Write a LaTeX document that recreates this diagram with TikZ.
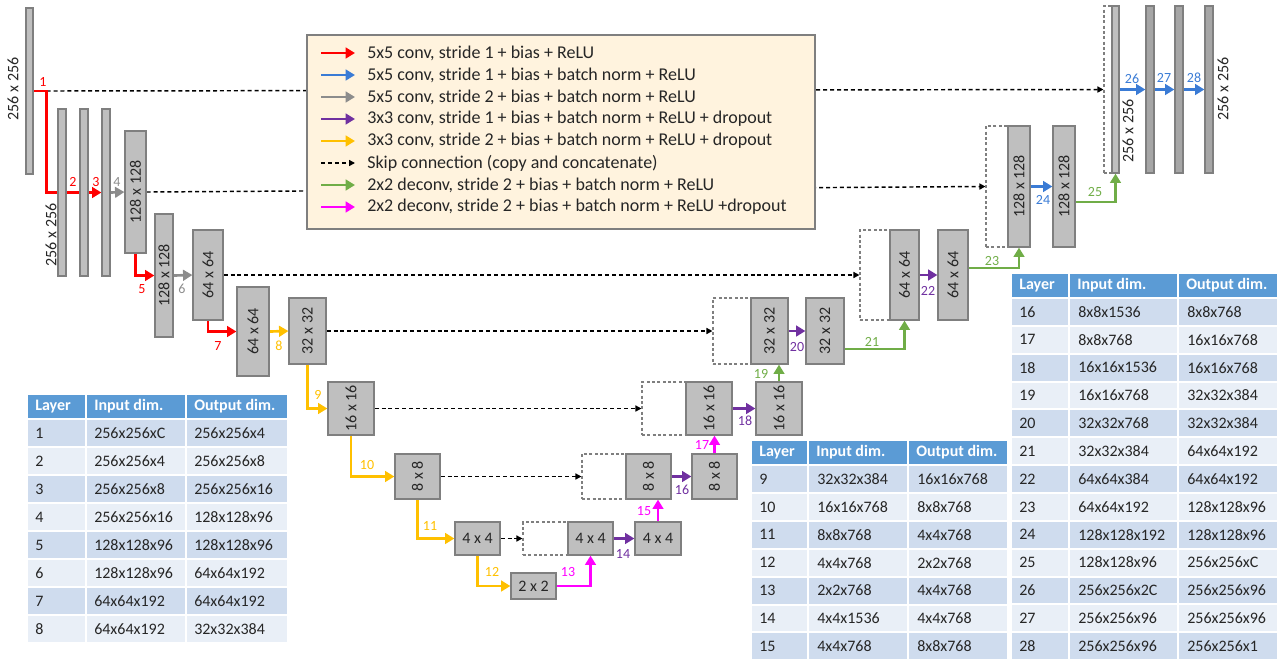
\documentclass[tikz,border=0pt]{standalone}
\usepackage{fontspec}
\setmainfont{Carlito}
\usetikzlibrary{arrows.meta,fit,calc}
\definecolor{cred}{HTML}{FF0000}
\definecolor{cblue}{HTML}{3A7BD5}
\definecolor{cgray}{HTML}{8C8C8C}
\definecolor{cpurple}{HTML}{7030A0}
\definecolor{cyellow}{HTML}{FFC000}
\definecolor{cgreen}{HTML}{70AD47}
\definecolor{cmag}{HTML}{FF00FF}
\definecolor{blkfill}{HTML}{BFBFBF}
\definecolor{blkdark}{HTML}{A6A6A6}
\definecolor{blkline}{HTML}{7F7F7F}
\definecolor{legfill}{HTML}{FFF3DE}
\definecolor{thead}{HTML}{5B9BD5}
\definecolor{trowA}{HTML}{CFDCEE}
\definecolor{trowB}{HTML}{E9EFF7}
\definecolor{txt}{HTML}{262626}
\pgfdeclarelayer{bg}
\pgfsetlayers{bg,main}
\tikzset{
  blk/.style={draw=blkline, fill=blkfill, line width=0.9pt, inner sep=0pt},
  blkd/.style={blk, fill=blkdark},
  dbox/.style={draw=blkline, dash pattern=on 2.2pt off 1.8pt, line width=0.8pt, inner sep=0pt},
  lbl/.style={font=\fontsize{12}{14}\selectfont, text=txt, inner sep=0pt},
  num/.style={font=\fontsize{10.5}{12}\selectfont, inner sep=0pt},
  conn/.style={line width=2pt, -{Triangle[length=7pt,width=8pt]}},
  aRed/.style={conn, draw=cred},
  aBlue/.style={conn, draw=cblue},
  aGray/.style={conn, draw=cgray},
  aPur/.style={conn, draw=cpurple},
  aYel/.style={conn, draw=cyellow},
  aGrn/.style={conn, draw=cgreen},
  aMag/.style={conn, draw=cmag},
  skipc/.style={line width=1.1pt, draw=black, dash pattern=on 3pt off 2.2pt, -{Triangle[length=4.5pt,width=4.5pt]}},
  legtxt/.style={font=\fontsize{13.5}{16}\selectfont, text=txt, anchor=west, inner sep=0pt},
  ttxt/.style={font=\fontsize{12}{14}\selectfont, text=txt, anchor=west, inner sep=0pt},
  thtxt/.style={font=\fontsize{12}{14}\selectfont\bfseries, text=white, anchor=west, inner sep=0pt},
  cell/.style={draw=white, line width=1.5pt}
}
\begin{document}
\begin{tikzpicture}[x=0.75pt,y=-0.75pt]
\useasboundingbox (0,0) rectangle (1284,662);

% ---------- dashed concatenation boxes ----------
\node[dbox, fit={(1104,6)(1112,173)}] (R0) {};
\node[dbox, fit={(986,126)(1008,247)}] (Q0) {};
\node[dbox, fit={(860,230)(890,320)}] (P0) {};
\node[dbox, fit={(713,298)(751,364)}] (N0) {};
\node[dbox, fit={(642,382)(686,435)}] (H0) {};
\node[dbox, fit={(582,454)(626,499)}] (J0) {};
\node[dbox, fit={(523,522)(568,555)}] (L0) {};

% ---------- encoder blocks ----------
\node[blk, fit={(26,8)(33,174)}] (A) {};
\node[blk, fit={(58,109)(66,276)}] (S1) {};
\node[blk, fit={(80,109)(88,276)}] (S2) {};
\node[blk, fit={(102,109)(110,276)}] (S3) {};
\node[blk, fit={(125,131)(146,253)}] (B) {};
\node[blk, fit={(155,214)(173,337)}] (C) {};
\node[blk, fit={(193,230)(223,320)}] (D) {};
\node[blk, fit={(237,287)(269,376)}] (E) {};
\node[blk, fit={(289,298)(326,364)}] (F) {};
\node[blk, fit={(328,382)(374,435)}] (G) {};
\node[blk, fit={(395,454)(440,499)}] (I) {};
\node[blk, fit={(455,522)(500,555)}] (K) {};
\node[blk, fit={(511,573)(556,599)}] (M) {};
% ---------- decoder blocks ----------
\node[blk, fit={(568,522)(613,555)}] (L1) {};
\node[blk, fit={(635,522)(681,555)}] (L2) {};
\node[blk, fit={(626,454)(671,499)}] (J1) {};
\node[blk, fit={(692,454)(737,499)}] (J2) {};
\node[blk, fit={(686,382)(732,435)}] (H1) {};
\node[blk, fit={(756,382)(802,435)}] (H2) {};
\node[blk, fit={(751,298)(788,364)}] (N1) {};
\node[blk, fit={(806,298)(844,364)}] (N2) {};
\node[blk, fit={(890,230)(919,320)}] (P1) {};
\node[blk, fit={(938,230)(968,320)}] (P2) {};
\node[blk, fit={(1008,126)(1030,247)}] (Q1) {};
\node[blk, fit={(1053,126)(1075,247)}] (Q2) {};
\node[blk, fit={(1112,6)(1119,173)}] (R1) {};
\node[blkd, fit={(1146,6)(1154,173)}] (R2) {};
\node[blkd, fit={(1175,6)(1183,173)}] (R3) {};
\node[blkd, fit={(1205,6)(1213,173)}] (R4) {};

% ---------- block labels ----------
\node[lbl, rotate=90] (tA) at (13,89) {256 x 256};
\node[lbl, rotate=90] (tS) at (51,235) {256 x 256};
\node[lbl, rotate=90] (tB) at (B) {128 x 128};
\node[lbl, rotate=90] (tC) at (C) {128 x 128};
\node[lbl, rotate=90] (tD) at (D) {64 x 64};
\node[lbl, rotate=90] (tE) at (E) {64 x 64};
\node[lbl, rotate=90] (tF) at (F) {32 x 32};
\node[lbl, rotate=90] (tG) at (G) {16 x 16};
\node[lbl, rotate=90] (tI) at (I) {8 x 8};
\node[lbl] (tK) at (K) {4 x 4};
\node[lbl] (tM) at (M) {2 x 2};
\node[lbl] (tL1) at (L1) {4 x 4};
\node[lbl] (tL2) at (L2) {4 x 4};
\node[lbl, rotate=90] (tJ1) at (J1) {8 x 8};
\node[lbl, rotate=90] (tJ2) at (J2) {8 x 8};
\node[lbl, rotate=90] (tH1) at (H1) {16 x 16};
\node[lbl, rotate=90] (tH2) at (H2) {16 x 16};
\node[lbl, rotate=90] (tN1) at (N1) {32 x 32};
\node[lbl, rotate=90] (tN2) at (N2) {32 x 32};
\node[lbl, rotate=90] (tP1) at (P1) {64 x 64};
\node[lbl, rotate=90] (tP2) at (P2) {64 x 64};
\node[lbl, rotate=90] (tQ1) at (Q1) {128 x 128};
\node[lbl, rotate=90] (tQ2) at (Q2) {128 x 128};
\node[lbl, rotate=90] (tR1) at (1128,131) {256 x 256};
\node[lbl, rotate=90] (tR4) at (1223,89) {256 x 256};

% ---------- helper coordinates ----------
\coordinate (c1) at ($(A.east)+(13,0)$);
\coordinate (y349) at (0,349);
\coordinate (y268) at (0,268);
\coordinate (y202) at (0,202);

% ---------- connectors (behind blocks) ----------
\begin{pgfonlayer}{bg}
\draw[skipc] (c1) -- (R0.west);
\draw[skipc] (B.east) -- (Q0.west);
\draw[skipc] (D.east) -- (P0.west);
\draw[skipc] (F.east) -- (N0.west);
\draw[skipc] (G.east) -- (H0.west);
\draw[skipc] (I.east) -- (J0.west);
\draw[skipc] (K.east) -- (L0.west);

\draw[aRed] (A.east) -- (c1) |- (S3.west);
\draw[aGray] (S3.east) -- (B.west);
\draw[aRed] (B.south) |- (C.west);
\draw[aGray] (C.east) -- (D.west);
\draw[aRed] (D.south) |- (E.west);
\draw[aYel] (E.east) -- (F.west);
\draw[aYel] (F.south) |- (G.west);
\draw[aYel] (G.south) |- (I.west);
\draw[aYel] (I.south) |- (K.west);
\draw[aYel] (K.south) |- (M.west);
\draw[aMag] (M.east) -| (L1.south);
\draw[aPur] (L1.east) -- (L2.west);
\draw[aMag] (L2.north) -- (L2.north |- J1.south);
\draw[aPur] (J1.east) -- (J2.west);
\draw[aMag] (J2.north) -- (J2.north |- H1.south);
\draw[aPur] (H1.east) -- (H2.west);
\draw[aGrn] (H2.north) -- (H2.north |- N1.south);
\draw[aPur] (N1.east) -- (N2.west);
\draw[aGrn] (N2.east |- y349) -| (P1.south);
\draw[aPur] (P1.east) -- (P2.west);
\draw[aGrn] (P2.east |- y268) -| (Q1.south);
\draw[aBlue] (Q1.east) -- (Q2.west);
\draw[aGrn] (Q2.east |- y202) -| (R1.south);
\draw[aBlue] (R1.east) -- (R2.west);
\draw[aBlue] (R2.east) -- (R3.west);
\draw[aBlue] (R3.east) -- (R4.west);
\end{pgfonlayer}

% ---------- layer numbers ----------
\node[num, text=cred] (n1) at (43,82) {1};
\node[num, text=cred] (n2) at (73,182) {2};
\node[num, text=cred] (n3) at (96,182) {3};
\node[num, text=cgray] (n4) at (117,182) {4};
\node[num, text=cred] (n5) at (142,289) {5};
\node[num, text=cgray] (n6) at (182,289) {6};
\node[num, text=cred] (n7) at (218,346) {7};
\node[num, text=cyellow] (n8) at (279,346) {8};
\node[num, text=cyellow] (n9) at (318,395) {9};
\node[num, text=cyellow] (n10) at (367,465) {10};
\node[num, text=cyellow] (n11) at (430,526) {11};
\node[num, text=cyellow] (n12) at (492,572) {12};
\node[num, text=cmag] (n13) at (568,572) {13};
\node[num, text=cpurple] (n14) at (623,554) {14};
\node[num, text=cmag] (n15) at (644,511) {15};
\node[num, text=cpurple] (n16) at (682,490) {16};
\node[num, text=cmag] (n17) at (702,445) {17};
\node[num, text=cpurple] (n18) at (745,421) {18};
\node[num, text=cgreen] (n19) at (761,374) {19};
\node[num, text=cpurple] (n20) at (797,347) {20};
\node[num, text=cgreen] (n21) at (872,342) {21};
\node[num, text=cpurple] (n22) at (928,291) {22};
\node[num, text=cgreen] (n23) at (992,261) {23};
\node[num, text=cblue] (n24) at (1043,200) {24};
\node[num, text=cgreen] (n25) at (1095,192) {25};
\node[num, text=cblue] (n26) at (1132,79) {26};
\node[num, text=cblue] (n27) at (1164,78) {27};
\node[num, text=cblue] (n28) at (1194,78) {28};

% ---------- legend ----------
\node[draw=blkline, fill=legfill, line width=0.9pt, inner sep=0pt, fit={(307,35)(815,229)}] (leg) {};
\foreach \yy/\st/\tx [count=\k] in {
  53/aRed/{5x5 conv, stride 1 + bias + ReLU},
  75/aBlue/{5x5 conv, stride 1 + bias + batch norm + ReLU},
  97/aGray/{5x5 conv, stride 2 + bias + batch norm + ReLU},
  119/aPur/{3x3 conv, stride 1 + bias + batch norm + ReLU + dropout},
  141/aYel/{3x3 conv, stride 2 + bias + batch norm + ReLU + dropout},
  163/skipc/{Skip connection (copy and concatenate)},
  185/aGrn/{2x2 deconv, stride 2 + bias + batch norm + ReLU},
  207/aMag/{2x2 deconv, stride 2 + bias + batch norm + ReLU +dropout}} {
  \coordinate (ls\k) at (321,\yy);
  \coordinate (le\k) at (355,\yy);
  \draw[\st] (ls\k) -- (le\k);
  \node[legtxt] (lt\k) at (367,\yy) {\tx};
}

% ---------- table 1 ----------
\foreach \xa/\xb/\hd [count=\c] in {27/86/Layer, 86/186/Input dim., 186/288/Output dim.} {
  \path[cell, fill=thead] (\xa,394) rectangle (\xb,419);
  \node[thtxt] (ha\c) at (\xa+8,406.5) {\hd};
}
\foreach \la/\ia/\oa [count=\i] in {1/256x256xC/256x256x4, 2/256x256x4/256x256x8, 3/256x256x8/256x256x16, 4/256x256x16/128x128x96, 5/128x128x96/128x128x96, 6/128x128x96/64x64x192, 7/64x64x192/64x64x192, 8/64x64x192/32x32x384} {
  \ifodd\i \def\rc{trowA}\else\def\rc{trowB}\fi
  \pgfmathsetmacro\yt{419+(\i-1)*28}
  \pgfmathsetmacro\yb{\yt+28}
  \pgfmathsetmacro\ym{\yt+14}
  \path[cell, fill=\rc] (27,\yt) rectangle (86,\yb);
  \path[cell, fill=\rc] (86,\yt) rectangle (186,\yb);
  \path[cell, fill=\rc] (186,\yt) rectangle (288,\yb);
  \node[ttxt] (a\i l) at (35,\ym) {\la};
  \node[ttxt] (a\i i) at (94,\ym) {\ia};
  \node[ttxt] (a\i o) at (194,\ym) {\oa};
}

% ---------- table 2 ----------
\foreach \xa/\xb/\hd [count=\c] in {751/808/Layer, 808/908/Input dim., 908/1008/Output dim.} {
  \path[cell, fill=thead] (\xa,440) rectangle (\xb,465);
  \node[thtxt] (hb\c) at (\xa+8,452.5) {\hd};
}
\foreach \la/\ia/\oa [count=\i] in {9/32x32x384/16x16x768, 10/16x16x768/8x8x768, 11/8x8x768/4x4x768, 12/4x4x768/2x2x768, 13/2x2x768/4x4x768, 14/4x4x1536/4x4x768, 15/4x4x768/8x8x768} {
  \ifodd\i \def\rc{trowA}\else\def\rc{trowB}\fi
  \pgfmathsetmacro\yt{465+(\i-1)*27.9}
  \pgfmathsetmacro\yb{\yt+27.9}
  \pgfmathsetmacro\ym{\yt+13.95}
  \path[cell, fill=\rc] (751,\yt) rectangle (808,\yb);
  \path[cell, fill=\rc] (808,\yt) rectangle (908,\yb);
  \path[cell, fill=\rc] (908,\yt) rectangle (1008,\yb);
  \node[ttxt] (b\i l) at (759,\ym) {\la};
  \node[ttxt] (b\i i) at (817,\ym) {\ia};
  \node[ttxt] (b\i o) at (917,\ym) {\oa};
}

% ---------- table 3 ----------
\foreach \xa/\xb/\hd [count=\c] in {1011/1069/Layer, 1069/1178/Input dim., 1178/1278/Output dim.} {
  \path[cell, fill=thead] (\xa,273) rectangle (\xb,298);
  \node[thtxt] (hc\c) at (\xa+8,285.5) {\hd};
}
\foreach \la/\ia/\oa [count=\i] in {16/8x8x1536/8x8x768, 17/8x8x768/16x16x768, 18/16x16x1536/16x16x768, 19/16x16x768/32x32x384, 20/32x32x768/32x32x384, 21/32x32x384/64x64x192, 22/64x64x384/64x64x192, 23/64x64x192/128x128x96, 24/128x128x192/128x128x96, 25/128x128x96/256x256xC, 26/256x256x2C/256x256x96, 27/256x256x96/256x256x96, 28/256x256x96/256x256x1} {
  \ifodd\i \def\rc{trowA}\else\def\rc{trowB}\fi
  \pgfmathsetmacro\yt{298+(\i-1)*27.85}
  \pgfmathsetmacro\yb{\yt+27.85}
  \pgfmathsetmacro\ym{\yt+13.9}
  \path[cell, fill=\rc] (1011,\yt) rectangle (1069,\yb);
  \path[cell, fill=\rc] (1069,\yt) rectangle (1178,\yb);
  \path[cell, fill=\rc] (1178,\yt) rectangle (1278,\yb);
  \node[ttxt] (c\i l) at (1019,\ym) {\la};
  \node[ttxt] (c\i i) at (1078,\ym) {\ia};
  \node[ttxt] (c\i o) at (1187,\ym) {\oa};
}
\end{tikzpicture}
\end{document}
